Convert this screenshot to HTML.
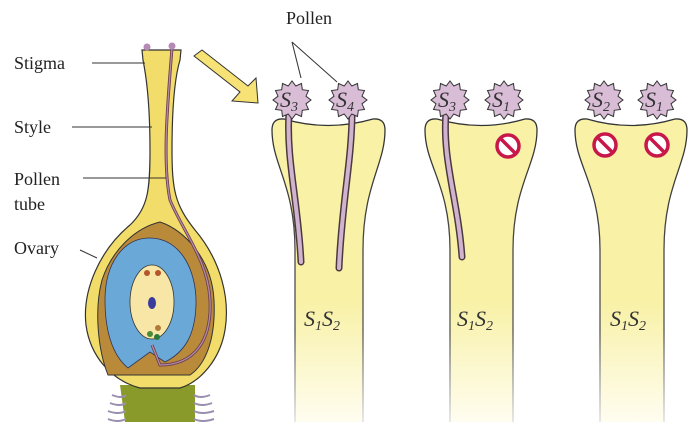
<!DOCTYPE html>
<html><head><meta charset="utf-8"><style>
html,body{margin:0;padding:0;background:#fff;}
svg{display:block;}
.lbl{font-family:"Liberation Serif",serif;font-size:18px;fill:#222;}
.s{font-family:"Liberation Serif",serif;font-style:italic;font-size:22px;fill:#333;}
.sub{font-size:14px;}
</style></head><body>
<svg width="700" height="422" viewBox="0 0 700 422" xmlns="http://www.w3.org/2000/svg">
<defs>
<linearGradient id="fade" x1="0" y1="0" x2="0" y2="1">
<stop offset="0" stop-color="#f8f1a6"/><stop offset="0.6" stop-color="#f8f1a6"/><stop offset="1" stop-color="#fffdf0"/>
</linearGradient>
<linearGradient id="edge" x1="0" y1="0" x2="0" y2="1">
<stop offset="0" stop-color="#333"/><stop offset="0.7" stop-color="#555"/><stop offset="1" stop-color="#ddd"/>
</linearGradient>
<polygon id="star" points="19,0 14,3.8 16.5,9.5 10.3,10.3 9.5,16.5 3.8,14 0,19 -3.8,14 -9.5,16.5 -10.3,10.3 -16.5,9.5 -14,3.8 -19,0 -14,-3.8 -16.5,-9.5 -10.3,-10.3 -9.5,-16.5 -3.8,-14 0,-19 3.8,-14 9.5,-16.5 10.3,-10.3 16.5,-9.5 14,-3.8" fill="#d9bdd6" stroke="#333" stroke-width="1"/>
<g id="no"><circle r="11" fill="#fff" stroke="#c8184a" stroke-width="3.5"/><line x1="-7" y1="-7" x2="7" y2="7" stroke="#c8184a" stroke-width="3.5"/></g>
</defs>

<!-- left pistil -->
<path d="M120,385 L195,385 L195,422 L125,422 Z" fill="#8a9a2a"/>
<g stroke="#9a8fb0" stroke-width="2" fill="none">
<path d="M112,395 q10,4 14,0"/><path d="M110,403 q10,4 16,0"/><path d="M108,411 q10,4 18,0"/><path d="M108,419 q10,4 18,0"/>
<path d="M194,395 q6,4 16,0"/><path d="M194,403 q8,4 18,0"/><path d="M194,411 q8,4 20,0"/><path d="M194,419 q8,4 20,0"/>
</g>
<path d="M142,50 L181,50 L180,60 C174,80 172,110 172,150 C172,190 175,205 195,230 C222,262 230,300 225,330 C220,360 200,382 180,388 L140,388 C110,380 90,355 86,325 C82,290 100,250 130,225 C148,208 150,190 150,150 C150,110 147,80 143,60 Z" fill="#f3dd6a" stroke="#333" stroke-width="1.2"/>
<path d="M160,222 C185,230 212,260 214,300 C216,340 205,365 190,375 L108,375 C98,350 94,310 102,280 C112,250 135,228 160,222 Z" fill="#b98a3a" stroke="#333" stroke-width="1"/>
<path d="M150,238 C180,238 197,270 196,305 C195,335 185,352 165,362 L150,352 L128,368 C112,355 105,330 105,300 C105,265 122,238 150,238 Z" fill="#6aa8d8" stroke="#335" stroke-width="0.8"/>
<ellipse cx="152" cy="302" rx="22" ry="37" fill="#f7e6a6" stroke="#333" stroke-width="0.8"/>
<ellipse cx="152" cy="303" rx="4" ry="6" fill="#3b3b9c"/>
<circle cx="147" cy="273" r="3" fill="#b4552a"/><circle cx="158" cy="273" r="3" fill="#b4552a"/>
<circle cx="150" cy="334" r="3" fill="#4a8a3a"/><circle cx="157" cy="337" r="3" fill="#2a7a3a"/><circle cx="158" cy="328" r="3" fill="#b07a3a"/>
<path d="M172,48 C168,100 162,160 170,200 C182,230 208,260 210,300 C212,340 195,365 160,365 L152,345" fill="none" stroke="#6a3e50" stroke-width="3"/>
<path d="M172,48 C168,100 162,160 170,200 C182,230 208,260 210,300 C212,340 195,365 160,365 L152,345" fill="none" stroke="#b58aa5" stroke-width="1.3"/>
<circle cx="147" cy="47" r="3.5" fill="#b58ab5"/><circle cx="172" cy="46" r="3.5" fill="#b58ab5"/>

<!-- labels -->
<text class="lbl" x="14" y="69">Stigma</text><line x1="92" y1="63" x2="145" y2="63" stroke="#333"/>
<text class="lbl" x="14" y="133">Style</text><line x1="72" y1="127" x2="152" y2="127" stroke="#333"/>
<text class="lbl" x="14" y="185">Pollen</text><text class="lbl" x="14" y="210">tube</text><line x1="83" y1="178" x2="166" y2="178" stroke="#333"/>
<text class="lbl" x="14" y="254">Ovary</text><line x1="80" y1="250" x2="97" y2="258" stroke="#333"/>

<!-- arrow -->
<path d="M194,56 L240,92 L232,101 L258,103 L256,78 L248,86 L202,50 Z" fill="#f6e275" stroke="#333" stroke-width="1"/>

<!-- styles -->
<g stroke="url(#edge)" stroke-width="1.3" fill="url(#fade)">
<path d="M295,422 L295,250 C295,185 272,165 272,130 Q272,118 284,119 Q328,132 373,119 Q385,118 385,130 C385,165 363,185 363,250 L363,422" />
<path d="M450,422 L450,250 C450,185 425,165 425,130 Q425,118 437,119 Q481,132 525,119 Q537,118 537,130 C537,165 513,185 513,250 L513,422" />
<path d="M600,422 L600,250 C600,185 575,165 575,130 Q575,118 587,119 Q631,132 675,119 Q687,118 687,130 C687,165 664,185 664,250 L664,422" />
</g>

<!-- tubes -->
<g fill="none" stroke-linecap="round">
<path d="M289,112 C286,160 298,200 301,262" stroke="#4a3a40" stroke-width="7"/>
<path d="M289,112 C286,160 298,200 301,262" stroke="#d2b3cf" stroke-width="4"/>
<path d="M352,112 C352,160 342,200 339,268" stroke="#4a3a40" stroke-width="7"/>
<path d="M352,112 C352,160 342,200 339,268" stroke="#d2b3cf" stroke-width="4"/>
<path d="M446,112 C442,160 458,200 462,257" stroke="#4a3a40" stroke-width="7"/>
<path d="M446,112 C442,160 458,200 462,257" stroke="#d2b3cf" stroke-width="4"/>
</g>

<!-- pollen -->
<line x1="292" y1="42" x2="301" y2="78" stroke="#333"/><line x1="292" y1="42" x2="337" y2="82" stroke="#333"/>
<text class="lbl" x="286" y="24">Pollen</text>
<use href="#star" x="292" y="100"/><text class="s" x="280" y="107">S<tspan class="sub" dy="4">3</tspan></text>
<use href="#star" x="348" y="100"/><text class="s" x="336" y="107">S<tspan class="sub" dy="4">4</tspan></text>
<use href="#star" x="450" y="100"/><text class="s" x="438" y="107">S<tspan class="sub" dy="4">3</tspan></text>
<use href="#star" x="504" y="100"/><text class="s" x="492" y="107">S<tspan class="sub" dy="4">1</tspan></text>
<use href="#star" x="604" y="100"/><text class="s" x="592" y="107">S<tspan class="sub" dy="4">2</tspan></text>
<use href="#star" x="657" y="100"/><text class="s" x="645" y="107">S<tspan class="sub" dy="4">1</tspan></text>

<use href="#no" x="508" y="146"/>
<use href="#no" x="605" y="145"/>
<use href="#no" x="657" y="145"/>

<text class="s" x="304" y="326">S<tspan class="sub" dy="4">1</tspan><tspan dy="-4">S</tspan><tspan class="sub" dy="4">2</tspan></text>
<text class="s" x="457" y="326">S<tspan class="sub" dy="4">1</tspan><tspan dy="-4">S</tspan><tspan class="sub" dy="4">2</tspan></text>
<text class="s" x="610" y="326">S<tspan class="sub" dy="4">1</tspan><tspan dy="-4">S</tspan><tspan class="sub" dy="4">2</tspan></text>
</svg>
</body></html>
